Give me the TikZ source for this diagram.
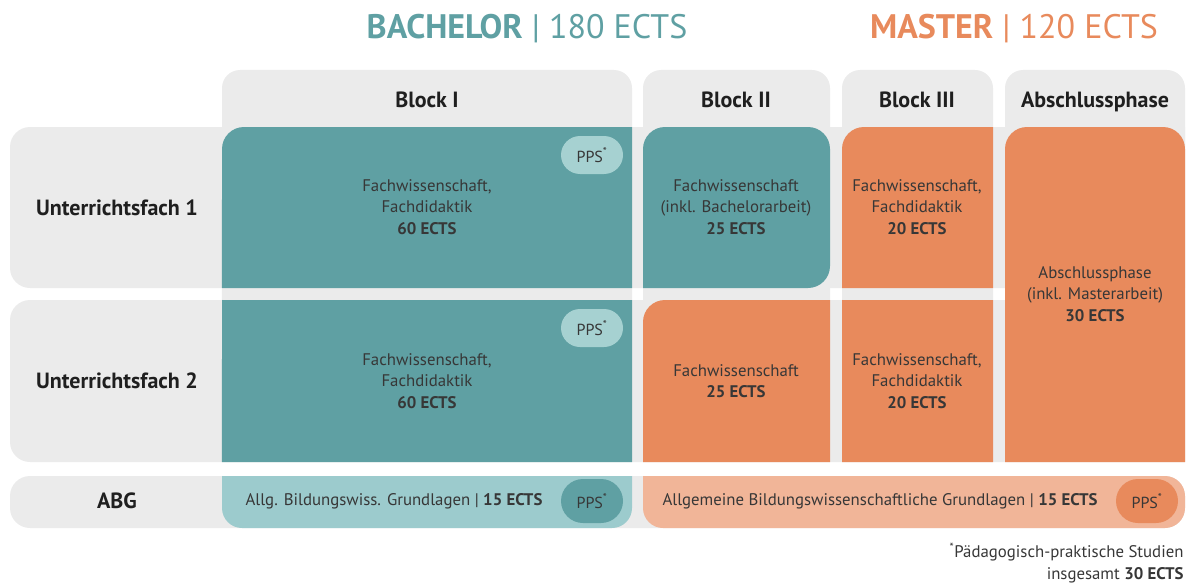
\documentclass[tikz,border=0pt]{standalone}
\usepackage{fontspec}
\setmainfont{PT Sans}
\usetikzlibrary{calc}

\definecolor{bteal}{RGB}{95,160,163}
\definecolor{borange}{RGB}{232,138,92}
\definecolor{lteal}{RGB}{156,203,205}
\definecolor{lorange}{RGB}{241,181,152}
\definecolor{ppsteal}{RGB}{166,209,209}
\definecolor{bggray}{RGB}{235,235,235}
\definecolor{txt}{RGB}{55,55,55}

% cell: [style](x1,y1)(x2,y2)(r top-left:r top-right:r bottom-right:r bottom-left)
\def\cell[#1](#2,#3)(#4,#5)(#6:#7:#8:#9){\fill[#1] ({#2+#6},#3) -- ({#4-#7},#3) arc[start angle=270, end angle=360, radius={max(#7,0.01)}] -- (#4,{#5-#8}) arc[start angle=0, end angle=90, radius={max(#8,0.01)}] -- ({#2+#9},#5) arc[start angle=90, end angle=180, radius={max(#9,0.01)}] -- (#2,{#3+#6}) arc[start angle=180, end angle=270, radius={max(#6,0.01)}] -- cycle;}

\tikzset{
  head/.style={font=\fontsize{22}{26}\selectfont\bfseries, text=black!88},
  body/.style={font=\fontsize{16.8}{21.5}\selectfont, text=txt, align=center},
  pps/.style={font=\fontsize{16}{18}\selectfont, text=txt, rounded corners=19, minimum width=62, minimum height=38, inner sep=0},
  title/.style={font=\fontsize{34}{40}\selectfont}
}

\begin{document}
\begin{tikzpicture}[x=1pt, y=-1pt]
			%%%%% START %%%%%
			\useasboundingbox (0, 0) rectangle (1190, 583);
			
			\node[title, text=bteal] (bach) at (527, 29) {\textbf{BACHELOR} | 180 ECTS};
			\node[title, text=borange] (mast) at (1014, 29) {\textbf{MASTER} | 120 ECTS};
			
			% gray columns and rows
			\cell[bggray](222,70)(632,462)(18:18:0:0)
			\cell[bggray](643,70)(830,462)(18:18:0:0)
			\cell[bggray](842,70)(993,462)(18:18:0:0)
			\cell[bggray](1005,70)(1185,462)(18:18:0:0)
			\cell[bggray](10,127)(1185,288)(20:0:0:20)
			\cell[bggray](10,300)(1185,462)(20:0:0:20)
			\cell[bggray](10,476)(1185,528)(20:20:20:20)
			
			% bachelor
			\cell[bteal](222,127)(632,288)(22:0:0:0)
			\cell[bteal](643,127)(830,288)(22:22:22:0)
			\cell[bteal](222,300)(632,462)(0:0:0:0)
			\cell[lteal](222,476)(632,528)(0:0:20:20)
			
			% master
			\cell[borange](643,300)(830,462)(22:0:0:0)
			\cell[borange](842,127)(993,288)(22:0:0:0)
			\cell[borange](842,300)(993,462)(0:0:0:0)
			\cell[borange](1005,127)(1185,462)(22:22:0:0)
			\cell[lorange](643,476)(1185,528)(0:20:20:20)
			
			\node[head, anchor=base] (blk1) at (427, 108) {Block I};
			\node[head, anchor=base] (blk2) at (736, 108) {Block II};
			\node[head, anchor=base] (blk3) at (917, 108) {Block III};
			\node[head, anchor=base] (absph) at (1095, 108) {Abschlussphase};
			
			\node[head] (uf1) at (117, 208) {Unterrichtsfach 1};
			\node[head] (uf2) at (117, 381) {Unterrichtsfach 2};
			\node[head] (abg) at (117, 501) {ABG};
			
			\node[body] (c11) at (427, 207) {Fachwissenschaft,\\Fachdidaktik\\\textbf{60 ECTS}};
			\node[body] (c12) at (736, 207) {Fachwissenschaft\\(inkl. Bachelorarbeit)\\\textbf{25 ECTS}};
			\node[body] (c13) at (917, 207) {Fachwissenschaft,\\Fachdidaktik\\\textbf{20 ECTS}};
			\node[body] (c14) at (1095, 294) {Abschlussphase\\(inkl. Masterarbeit)\\\textbf{30 ECTS}};
			\node[body] (c21) at (427, 381) {Fachwissenschaft,\\Fachdidaktik\\\textbf{60 ECTS}};
			\node[body] (c22) at (736, 381) {Fachwissenschaft\\\textbf{25 ECTS}};
			\node[body] (c23) at (917, 381) {Fachwissenschaft,\\Fachdidaktik\\\textbf{20 ECTS}};
			\node[body] (abgb) at (394, 501) {Allg. Bildungswiss. Grundlagen | \textbf{15 ECTS}};
			\node[body] (abgm) at (880, 501) {Allgemeine Bildungswissenschaftliche Grundlagen | \textbf{15 ECTS}};
			
			\node[pps, fill=ppsteal] (pps1) at (592, 155) {PPS\textsuperscript{*}};
			\node[pps, fill=ppsteal] (pps2) at (592, 328) {PPS\textsuperscript{*}};
			\node[pps, fill=bteal, minimum height=44, rounded corners=22] (pps3) at (592, 501) {PPS\textsuperscript{*}};
			\node[pps, fill=borange, minimum height=44, rounded corners=22] (pps4) at (1147, 501) {PPS\textsuperscript{*}};
			
			\node[body, align=right, anchor=east] (note) at (1187, 563) {\textsuperscript{*}Pädagogisch-praktische Studien\\insgesamt \textbf{30 ECTS}};
			
			%%%%% END %%%%%
\end{tikzpicture}
\end{document}
